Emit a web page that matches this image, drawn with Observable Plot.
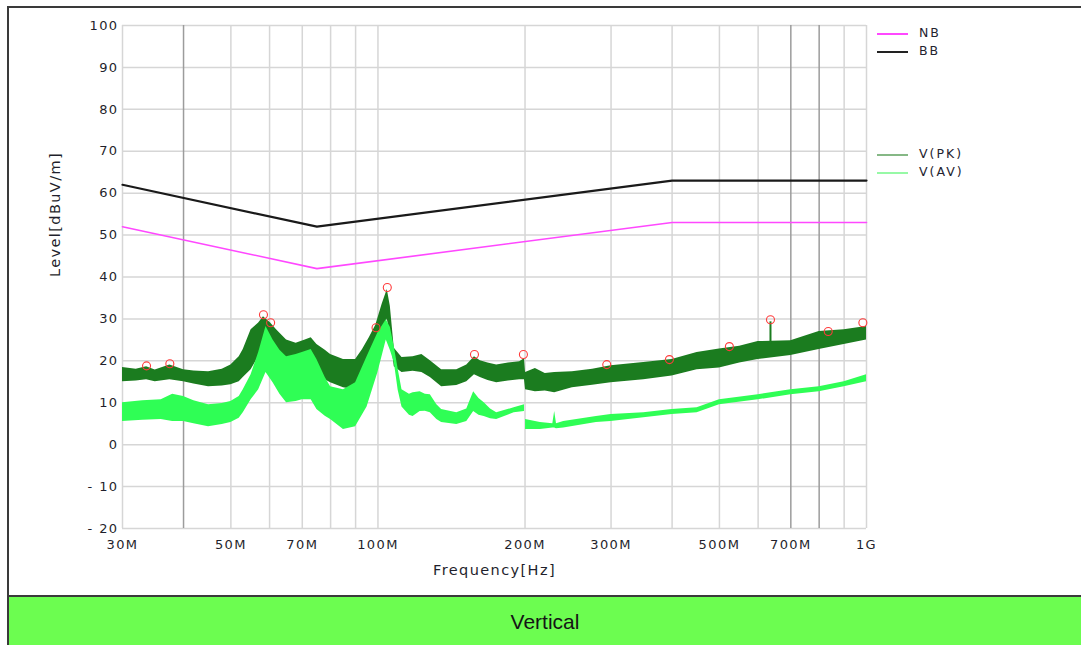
<!DOCTYPE html>
<html>
<head>
<meta charset="utf-8">
<script src="https://cdn.jsdelivr.net/npm/d3@7"></script>
<script src="https://cdn.jsdelivr.net/npm/@observablehq/plot@0.6"></script>
<style>
  html, body { margin: 0; padding: 0; background: #fff; }
  #wrap { position: relative; width: 1081px; height: 645px; overflow: hidden; font-family: "DejaVu Sans", sans-serif; }
  #frame { position: absolute; left: 7px; top: 6px; width: 1100px; height: 700px; border-left: 2px solid #3a3a3a; border-top: 2px solid #3a3a3a; }
  #plot { position: absolute; left: 0; top: 0; }
  #band { position: absolute; left: 9px; top: 595px; width: 1100px; height: 50px; background: #6cfd50; border-top: 2px solid #3a3a3a; }
  #bandText { position: absolute; left: 9px; top: 598px; width: 1072px; height: 48px; line-height: 48px; text-align: center; font-family: "Liberation Sans", Arial, sans-serif; font-size: 21px; color: #151515; }
  .legend { position: absolute; left: 877px; font-size: 12.5px; letter-spacing: 2px; color: #23232f; }
  .legend span.sw { position: absolute; left: 0; width: 31px; height: 2px; }
  .legend span.tx { position: absolute; left: 42px; top: -8px; white-space: nowrap; }
  .chart text { letter-spacing: 1.4px; }
</style>
</head>
<body>
<div id="wrap">
  <div id="frame"></div>
  <div id="plot"></div>
  <div id="band"></div>
  <div id="bandText">Vertical</div>
  <div id="legend"></div>
</div>
<script>
// ---- Data (frequency in MHz, level in dBuV/m) ----
const xTicks = [30, 50, 70, 100, 200, 300, 500, 700, 1000];
const xTickLabels = ["30M", "50M", "70M", "100M", "200M", "300M", "500M", "700M", "1G"];
const gridFreqs = [30, 40, 50, 60, 70, 80, 90, 100, 200, 300, 400, 500, 600, 700, 800, 900, 1000];
const darkGridFreqs = [40, 700, 800];
const yTicks = [100, 90, 80, 70, 60, 50, 40, 30, 20, 10, 0, -10, -20];
const yTickLabels = ["100", "90", "80", "70", "60", "50", "40", "30", "20", "10", "0", "- 10", "- 20"];

// limit lines
const limitFreq = [30, 75, 400, 1000];
const nbLevel = [52, 42, 53, 53];
const bbLevel = [62, 52, 63, 63];

// V(PK) envelope: frequency, lower edge, upper edge
const pkFreq = [30, 32, 33.6, 35, 37.5, 40, 42, 45, 48, 50, 52, 53, 55, 57, 58.3, 60.3, 62, 65, 68, 71, 73, 75, 78, 80, 85, 90, 93, 96, 99, 102, 104.5, 106, 108, 112, 118, 123, 128, 135, 145, 152, 157.6, 162, 168, 175, 185, 195, 199.5, 200.5, 210, 220, 230, 250, 275, 300, 350, 400, 450, 500, 550, 600, 700, 800, 900, 1000];
const pkLow  = [15.0, 15.2, 15.5, 15.0, 15.5, 15.0, 14.5, 13.8, 14.0, 14.3, 15.0, 16.0, 17.9, 21.0, 22.0, 21.5, 20.3, 19.0, 18.4, 18.6, 18.4, 17.4, 15.5, 14.8, 13.6, 13.1, 15.5, 19.0, 22.5, 27.0, 30.0, 26.0, 18.6, 17.2, 17.5, 17.2, 16.0, 13.8, 14.1, 15.0, 16.7, 16.0, 15.3, 14.8, 15.2, 15.5, 15.5, 13.1, 12.6, 12.8, 12.4, 13.6, 14.2, 14.8, 15.5, 16.4, 17.9, 18.3, 19.5, 20.3, 21.3, 22.7, 23.9, 25.0];
const pkHigh = [18.4, 18.0, 18.6, 17.8, 19.0, 17.9, 17.6, 17.4, 18.0, 19.0, 21.0, 22.7, 27.4, 29.0, 30.5, 29.0, 27.4, 25.0, 24.2, 25.0, 25.5, 23.9, 22.5, 21.5, 20.3, 20.3, 22.7, 25.5, 28.5, 33.5, 37.0, 33.0, 23.0, 20.8, 21.0, 21.5, 20.0, 17.9, 17.9, 19.0, 21.0, 20.0, 19.5, 19.0, 19.5, 19.8, 20.5, 17.2, 18.2, 17.0, 17.2, 17.4, 18.0, 18.8, 19.6, 20.3, 22.0, 22.8, 23.5, 24.6, 24.8, 27.0, 27.4, 28.2];

// V(AV) envelope: frequency, lower edge, upper edge, segment (gap at 200 MHz)
const avFreq = [30, 33, 36, 38, 40, 42, 45, 48, 50, 52, 53, 55, 57, 59, 61, 63, 65, 68, 70, 73, 75, 78, 80, 85, 90, 95, 100, 104, 106, 108, 110, 112, 116, 118, 122, 125, 128, 132, 135, 145, 152, 157, 161, 165, 170, 175, 190, 199.5,
                200.5, 215, 228, 230, 232, 240, 280, 300, 350, 400, 450, 500, 600, 700, 800, 900, 1000];
const avLow  = [5.5, 5.8, 6.0, 5.5, 5.5, 5.0, 4.3, 4.8, 5.3, 6.3, 7.6, 10.7, 13.1, 17.2, 14.8, 12.0, 10.0, 10.3, 10.7, 10.7, 8.4, 6.8, 6.0, 3.6, 4.3, 9.0, 17.2, 25.0, 22.5, 19.6, 13.0, 9.0, 7.0, 6.7, 7.9, 8.0, 7.6, 6.0, 5.3, 4.8, 5.5, 7.9, 7.0, 6.7, 6.2, 6.0, 7.6, 7.9,
                3.6, 3.6, 4.0, 4.0, 3.8, 4.0, 5.3, 5.5, 6.4, 7.2, 7.6, 9.5, 10.7, 11.9, 12.6, 13.8, 15.0];
const avHigh = [10.0, 10.5, 10.7, 12.0, 11.5, 10.5, 9.5, 9.8, 10.3, 11.5, 13.1, 16.7, 22.0, 28.2, 25.0, 22.5, 21.0, 21.5, 22.0, 22.7, 20.3, 16.0, 13.8, 13.1, 14.8, 21.0, 26.7, 29.8, 28.0, 23.4, 18.0, 13.1, 12.0, 12.4, 12.6, 12.0, 11.9, 9.5, 8.4, 7.6, 8.5, 12.6, 11.0, 10.0, 8.5, 7.6, 8.8, 9.5,
                6.0, 5.3, 5.0, 7.9, 5.0, 5.5, 6.7, 7.2, 7.6, 8.4, 8.8, 10.7, 11.9, 13.1, 13.8, 15.0, 16.7];
const avSeg  = [1,1,1,1,1,1,1,1,1,1,1,1,1,1,1,1,1,1,1,1,1,1,1,1,1,1,1,1,1,1,1,1,1,1,1,1,1,1,1,1,1,1,1,1,1,1,1,1,
                2,2,2,2,2,2,2,2,2,2,2,2,2,2,2,2,2];

// narrow spike in V(PK)
const spikeFreq = [636];
const spikeLow = [24.0];
const spikeHigh = [29.3];

// peak markers
const markFreq  = [33.6, 37.5, 58.3, 60.3, 99.1, 104.5, 157.6, 198.5, 294, 395, 524, 636, 835, 983];
const markLevel = [18.8, 19.3, 31.0, 29.1, 27.9, 37.5, 21.5, 21.5, 19.1, 20.3, 23.4, 29.8, 27.0, 29.1];

const legendNames = ["NB", "BB", "V(PK)", "V(AV)"];
const legendColors = ["#ff48ff", "#222222", "#86b886", "#97f9a6"];

const xLabel = "Frequency[Hz]";
const yLabel = "Level[dBuV/m]";

// ---- tables built from the arrays ----
const limits = limitFreq.flatMap((f, i) => [
  {f, v: nbLevel[i], k: "NB"},
  {f, v: bbLevel[i], k: "BB"}
]);
const pk = pkFreq.map((f, i) => ({f, lo: pkLow[i], hi: pkHigh[i]}));
const av = avFreq.map((f, i) => ({f, lo: avLow[i], hi: avHigh[i], s: avSeg[i]}));
const spikes = spikeFreq.map((f, i) => ({f, lo: spikeLow[i], hi: spikeHigh[i]}));
const marks = markFreq.map((f, i) => ({f, v: markLevel[i]}));
const xTickRows = xTicks.map((f, i) => ({f, t: xTickLabels[i]}));
const yTickRows = yTicks.map((v, i) => ({v, t: yTickLabels[i]}));

const PK_COLOR = "#1b7c1f";
const AV_COLOR = "#2ffe55";
const TXT = "#1f1f2c";

const chart = Plot.plot({
  className: "chart",
  width: 1081,
  height: 595,
  marginLeft: 122,
  marginRight: 215,
  marginTop: 25,
  marginBottom: 67,
  x: {type: "log", domain: [30, 1000], axis: null},
  y: {domain: [-20, 100], axis: null},
  style: {fontFamily: "DejaVu Sans, sans-serif", fontSize: "13px", color: TXT, background: "transparent", overflow: "visible"},
  marks: [
    Plot.ruleX(gridFreqs.filter(d => !darkGridFreqs.includes(d)), {stroke: "#d6d6d6", strokeWidth: 1.5}),
    Plot.ruleY(yTicks, {stroke: "#d6d6d6", strokeWidth: 1.5}),
    Plot.ruleX(darkGridFreqs, {stroke: "#9c9c9c", strokeWidth: 1.5}),
    Plot.areaY(pk, {x: "f", y1: "lo", y2: "hi", fill: PK_COLOR, curve: "linear"}),
    Plot.ruleX(spikes, {x: "f", y1: "lo", y2: "hi", stroke: PK_COLOR, strokeWidth: 2}),
    Plot.areaY(av, {x: "f", y1: "lo", y2: "hi", z: "s", fill: AV_COLOR, curve: "linear"}),
    Plot.line(limits.filter(d => d.k === "NB"), {x: "f", y: "v", stroke: "#ff48ff", strokeWidth: 1.6}),
    Plot.line(limits.filter(d => d.k === "BB"), {x: "f", y: "v", stroke: "#1a1a1a", strokeWidth: 2.2}),
    Plot.dot(marks, {x: "f", y: "v", r: 4, stroke: "#ff3b3b", strokeWidth: 1.1, fill: "none"}),
    // tick labels through the scales
    Plot.text(xTickRows, {x: "f", frameAnchor: "bottom", dy: 20, text: "t", fontSize: 13, fill: TXT}),
    Plot.text(yTickRows, {y: "v", frameAnchor: "left", dx: -4, textAnchor: "end", text: "t", fontSize: 13, fill: TXT}),
    Plot.text([xLabel], {frameAnchor: "bottom", dy: 46, text: d => d, fontSize: 14.5, fill: TXT}),
    Plot.text([yLabel], {frameAnchor: "left", dx: -67, rotate: -90, text: d => d, fontSize: 14.5, fill: TXT})
  ]
});
document.getElementById("plot").appendChild(chart);

// legend
const legendTops = [33, 51, 154, 172];
const lg = document.getElementById("legend");
legendNames.forEach((name, i) => {
  const row = document.createElement("div");
  row.className = "legend";
  row.style.top = legendTops[i] + "px";
  row.innerHTML = `<span class="sw" style="background:${legendColors[i]}"></span><span class="tx">${name}</span>`;
  lg.appendChild(row);
});
</script>
</body>
</html>
